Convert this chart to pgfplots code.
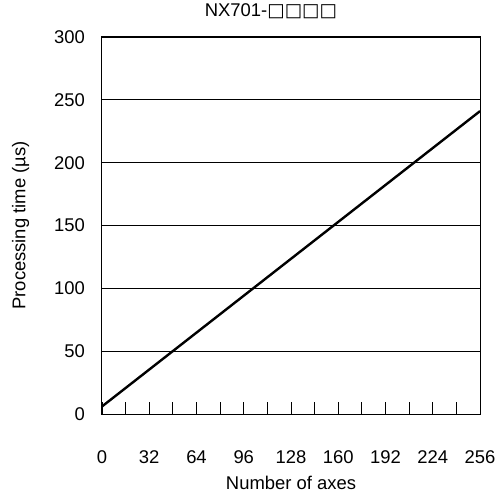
\documentclass[border=0pt]{standalone}
\usepackage{pgfplots}
\pgfplotsset{compat=1.18}
\usepackage{fontspec}
\setmainfont{Liberation Sans}
\newfontfamily\dejavu{DejaVu Sans}
\begin{document}
\begin{tikzpicture}
\useasboundingbox (-102bp,-79bp) rectangle (395bp,414bp);
\begin{axis}[
  at={(0,0)}, anchor=south west,
  width=378bp, height=377bp, scale only axis,
  xmin=0, xmax=256, ymin=0, ymax=300,
  xtick={0,32,...,256}, ytick={0,50,...,300},
  minor x tick num=1,
  tick align=inside, xtick pos=bottom, ytick pos=left,
  major tick length=12bp, minor tick length=12bp,
  ytick style={draw=none},
  ymajorgrids, grid style={black, line width=0.8bp},
  axis line style={line width=1bp},
  tick style={black, line width=0.8bp},
  /pgf/number format/assume math mode=true,
  ticklabel style={font=\fontsize{18.5}{20}\selectfont, inner sep=0pt},
  xticklabel style={anchor=center, yshift=-43.5bp},
  yticklabel style={anchor=east, xshift=-17bp},
  label style={font=\fontsize{18.5}{20}\selectfont},
  xlabel={Number of axes},
  xlabel style={at={(axis description cs:0.5,-0.183)}, anchor=center},
  ylabel={Processing time (µs)},
  ylabel style={at={(axis description cs:-0.215,0.5)}, anchor=center},
  title={NX701-{\dejavu □□□□}},
  title style={font=\fontsize{18.5}{20}\selectfont, at={(axis description cs:0.447,1.052)}, anchor=center},
]
\addplot[black, line width=2.4bp] coordinates {(0,6) (256,241)};
\end{axis}
\end{tikzpicture}
\end{document}
